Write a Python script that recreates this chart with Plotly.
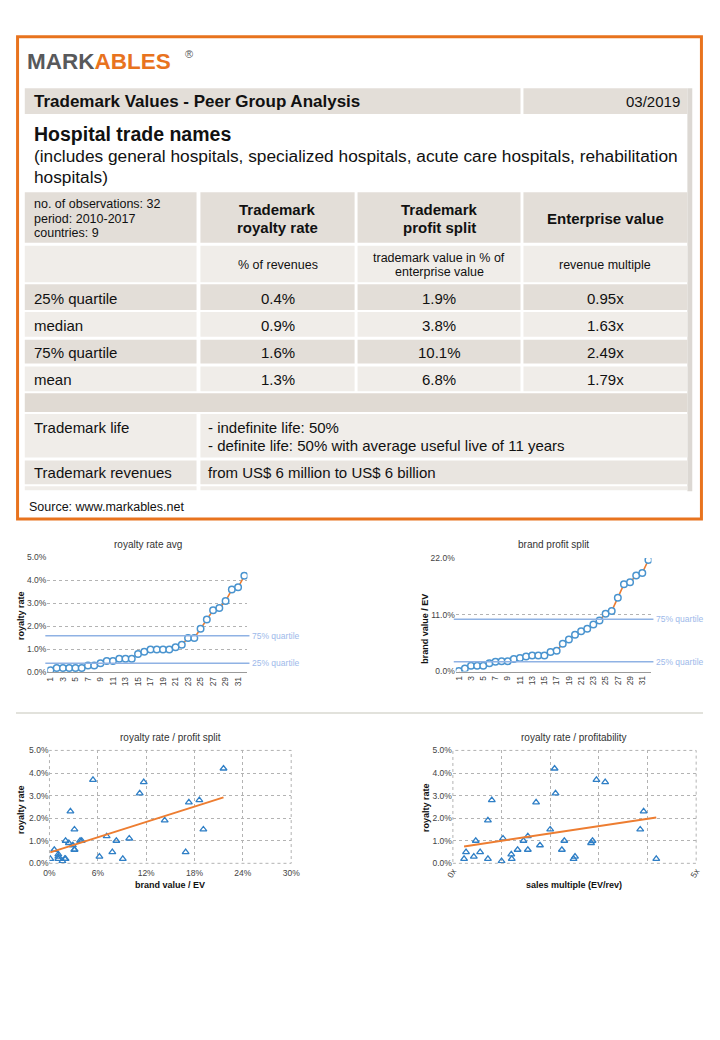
import plotly.graph_objects as go
import numpy as np

# The page keeps the browser's default 8px body margin, so the figure is
# 704x1024 and every target pixel position is shifted by that margin.
PAGE_W, PAGE_H = 720, 1040
OX, OY = 8, 8
W, H = PAGE_W - 2 * OX, PAGE_H - 2 * OY
FONT = "Liberation Sans, Arial, sans-serif"

# ---------------- data ----------------
# chart 3: brand value / EV (%) vs royalty rate (%)
brand_value = [0.1, 0.6, 1.1, 1.1, 1.1, 1.6, 1.9, 2.0, 2.0, 2.4, 2.6, 2.9, 3.1, 3.1, 3.1, 3.8,
               4.0, 5.4, 6.2, 7.1, 7.8, 8.3, 9.1, 9.9, 11.2, 11.7, 14.3, 16.9, 17.3, 18.6, 19.1, 21.6]
royalty_bv = [0.2, 0.6, 0.2, 0.4, 0.3, 0.1, 0.2, 1.0, 0.2, 0.9, 2.3, 0.8, 1.5, 0.6, 0.6, 1.0,
              1.0, 3.7, 0.3, 1.2, 0.5, 1.0, 0.2, 1.1, 3.1, 3.6, 1.9, 0.5, 2.7, 2.8, 1.5, 4.2]
# chart 4: sales multiple (EV/rev) vs royalty rate (%)
ev_multiple = [0.23, 0.27, 0.43, 0.47, 0.56, 0.72, 0.72, 0.80, 1.00, 1.03, 1.20, 1.21, 1.33, 1.45, 1.54, 1.54,
               1.71, 1.79, 2.00, 2.09, 2.11, 2.24, 2.29, 2.48, 2.51, 2.84, 2.87, 2.95, 3.13, 3.85, 3.92, 4.18]
royalty_ev = [0.2, 0.5, 0.3, 1.0, 0.5, 1.9, 0.2, 2.8, 0.1, 1.1, 0.4, 0.2, 0.6, 1.0, 0.6, 1.2,
              2.7, 0.8, 1.5, 4.2, 3.1, 0.6, 1.0, 0.2, 0.3, 0.9, 1.0, 3.7, 3.6, 1.5, 2.3, 0.2]

royalty_quartiles = [0.4, 1.6]
brand_quartiles = [1.9, 10.1]
quartile_labels = ["25% quartile", "75% quartile"]

x_ticks_rank = list(range(1, 33, 2))
royalty_ticks = [0, 1, 2, 3, 4, 5]
royalty_ticktext = ["0.0%", "1.0%", "2.0%", "3.0%", "4.0%", "5.0%"]
brand_ticks = [0, 11, 22]
brand_ticktext = ["0.0%", "11.0%", "22.0%"]
bv_ticks = [0, 6, 12, 18, 24, 30]
bv_ticktext = ["0%", "6%", "12%", "18%", "24%", "30%"]
ev_tickvals = [0, 1, 2, 3, 4, 5]
ev_ticktext = ["0x", "", "", "", "", "5x"]

# table content
stat_rows = ["25% quartile", "median", "75% quartile", "mean"]
royalty_stats = ["0.4%", "0.9%", "1.6%", "1.3%"]
split_stats = ["1.9%", "3.8%", "10.1%", "6.8%"]
ev_stats = ["0.95x", "1.63x", "2.49x", "1.79x"]

# ---------------- helpers ----------------
def px(x):
    return (x - OX) / W

def py(y):
    return 1 - (y - OY) / H

shapes = []
annotations = []

def rect(x0, y0, x1, y1, fill):
    shapes.append(dict(type="rect", xref="paper", yref="paper",
                       x0=px(x0), x1=px(x1), y0=py(y1), y1=py(y0),
                       fillcolor=fill, line=dict(width=0, color=fill), layer="below"))

def hline(x0, x1, y, color, width):
    shapes.append(dict(type="line", xref="paper", yref="paper",
                       x0=px(x0), x1=px(x1), y0=py(y), y1=py(y),
                       line=dict(color=color, width=width)))

def text(x, y, s, size, bold=False, anchor="left", color="#111", angle=0):
    if bold:
        s = "<b>" + s + "</b>"
    annotations.append(dict(x=px(x), y=py(y), xref="paper", yref="paper", text=s,
                            showarrow=False, xanchor=anchor, yanchor="middle",
                            textangle=angle, borderpad=0,
                            font=dict(family=FONT, size=size, color=color)))

# ---------------- table ----------------
DARK = "#e3ded8"
LIGHT = "#f0ede9"
MID = "#e9e5e0"
C = [(17, 193), (197, 355), (358, 525), (528, 696)]

def mid(i):
    return (C[i][0] + C[i][1]) / 2

rect(696, 84, 701, 491, "#dcd8d3")  # right shadow

# row A
rect(17, 84, 525, 110, DARK)
rect(528, 84, 696, 110, DARK)
text(25, 97, "Trademark Values - Peer Group Analysis", 17, bold=True)
text(689, 97, "03/2019", 15, anchor="right")

# title block
text(25, 130, "Hospital trade names", 19.5, bold=True)
text(25, 152, "(includes general hospitals, specialized hospitals, acute care hospitals, rehabilitation", 17.3)
text(25, 174, "hospitals)", 17.3)

# header row
for (a, b) in C:
    rect(a, 189, b, 240, DARK)
text(25, 201, "no. of observations: 32", 12.5)
text(25, 216, "period: 2010-2017", 12.5)
text(25, 230.5, "countries: 9", 12.5)
text(mid(1), 206.5, "Trademark", 15, bold=True, anchor="center")
text(mid(1), 224.5, "royalty rate", 15, bold=True, anchor="center")
text(mid(2), 206.5, "Trademark", 15, bold=True, anchor="center")
text(mid(2), 224.5, "profit split", 15, bold=True, anchor="center")
text(mid(3), 215.5, "Enterprise value", 15, bold=True, anchor="center")

# units row
for (a, b) in C:
    rect(a, 243, b, 280, LIGHT)
text(mid(1), 262, "% of revenues", 12.5, anchor="center")
text(mid(2), 255, "trademark value in % of", 12.5, anchor="center")
text(mid(2), 270, "enterprise value", 12.5, anchor="center")
text(mid(3), 262, "revenue multiple", 12.5, anchor="center")

# stat rows
row_bounds = [(282, 308), (310, 335), (338, 362), (365, 390)]
for i, (t, bt) in enumerate(row_bounds):
    fill = DARK if i % 2 == 0 else LIGHT
    for (a, b) in C:
        rect(a, t, b, bt, fill)
    yc = (t + bt) / 2 + 1
    text(25, yc, stat_rows[i], 15)
    text(mid(1), yc, royalty_stats[i], 15, anchor="center")
    text(mid(2), yc, split_stats[i], 15, anchor="center")
    text(mid(3), yc, ev_stats[i], 15, anchor="center")

# empty row
rect(17, 392, 696, 411, "#e0dad3")
# trademark life
rect(17, 413, 193, 457, LIGHT)
rect(197, 413, 696, 457, LIGHT)
text(25, 427, "Trademark life", 15)
text(204, 427, "- indefinite life: 50%", 15)
text(204, 445, "- definite life: 50% with average useful live of 11 years", 15)
# trademark revenues
rect(17, 460, 193, 484, MID)
rect(197, 460, 696, 484, MID)
text(25, 472, "Trademark revenues", 15)
text(204, 472, "from US$ 6 million to US$ 6 billion", 15)
rect(17, 486, 193, 490, LIGHT)
rect(197, 486, 696, 490, LIGHT)

text(20, 507, "Source: www.markables.net", 12.5)

# logo
annotations.append(dict(x=px(18), y=py(57), xref="paper", yref="paper", showarrow=False,
                        xanchor="left", yanchor="middle", borderpad=0,
                        text="<b><span style='color:#58595b'>MARK</span><span style='color:#e8731e'>ABLES</span></b>",
                        font=dict(family=FONT, size=22.5)))
text(180, 49, "®", 11, color="#58595b")

# orange frame
shapes.append(dict(type="rect", xref="paper", yref="paper",
                   x0=px(9.6), x1=px(710.4), y0=py(519), y1=py(32),
                   line=dict(color="#e8731e", width=3), fillcolor="rgba(0,0,0,0)"))

# separator between chart rows
hline(OX, PAGE_W - OX, 715, "#d9d9d1", 1.5)

# ---------------- charts ----------------
ORANGE = "#ed7d31"
BLUE = "#4a94cf"
QBLUE = "#8fb2e4"
QTEXT = "#9db9ea"
GRID = "#b3b3b3"
TICK = dict(family=FONT, size=8.5, color="#444")

rank = list(range(1, 33))
roy_sorted = sorted(royalty_bv)
bv_sorted = sorted(brand_value)

fig = go.Figure()
for xa, ya, ys in (("x", "y", roy_sorted), ("x2", "y2", bv_sorted)):
    fig.add_trace(go.Scatter(x=rank, y=ys, mode="lines+markers", xaxis=xa, yaxis=ya,
                             line=dict(color=ORANGE, width=1.6),
                             marker=dict(symbol="circle", size=6.5, color="white",
                                         line=dict(color=BLUE, width=1.5))))

def trend(xs, ys):
    k, d = np.polyfit(xs, ys, 1)
    x0, x1 = min(xs), max(xs)
    return [x0, x1], [k * x0 + d, k * x1 + d]

for xa, ya, xs, ys in (("x3", "y3", brand_value, royalty_bv), ("x4", "y4", ev_multiple, royalty_ev)):
    fig.add_trace(go.Scatter(x=xs, y=ys, mode="markers", xaxis=xa, yaxis=ya,
                             marker=dict(symbol="triangle-up-open", size=6, color="#2f7fc6",
                                         line=dict(width=1.3))))
    tx, ty = trend(xs, ys)
    fig.add_trace(go.Scatter(x=tx, y=ty, mode="lines", xaxis=xa, yaxis=ya,
                             line=dict(color=ORANGE, width=2)))

# quartile lines
for ax, qs in (("", royalty_quartiles), ("2", brand_quartiles)):
    for q, lab in zip(qs, quartile_labels):
        shapes.append(dict(type="line", xref="x%s domain" % ax, yref="y%s" % ax,
                           x0=-0.01, x1=1.01, y0=q, y1=q,
                           line=dict(color=QBLUE, width=1.5)))
        annotations.append(dict(x=1.02, y=q, xref="x%s domain" % ax, yref="y%s" % ax,
                                text=lab, showarrow=False, xanchor="left", yanchor="middle",
                                borderpad=0,
                                font=dict(family=FONT, size=8.5, color=QTEXT)))

# dotted frames for scatter charts
for ax in ("3", "4"):
    shapes.append(dict(type="rect", xref="x%s domain" % ax, yref="y%s domain" % ax,
                       x0=0, x1=1, y0=0, y1=1,
                       line=dict(color=GRID, width=1, dash="dot"),
                       fillcolor="rgba(0,0,0,0)"))

# chart titles / axis titles
text(143, 545, "royalty rate avg", 10, anchor="center", color="#333")
text(559, 545, "brand profit split", 10, anchor="center", color="#333")
text(166, 740, "royalty rate / profit split", 10, anchor="center", color="#333")
text(580, 740, "royalty rate / profitability", 10, anchor="center", color="#333")
text(13, 616, "royalty rate", 9, bold=True, anchor="center", angle=-90)
text(427, 630, "brand value / EV", 9, bold=True, anchor="center", angle=-90)
text(13, 812, "royalty rate", 9, bold=True, anchor="center", angle=-90)
text(428, 810, "royalty rate", 9, bold=True, anchor="center", angle=-90)
text(166, 889, "brand value / EV", 9, bold=True, anchor="center")
text(580, 889, "sales multiple (EV/rev)", 9, bold=True, anchor="center")

base_y = dict(showgrid=True, gridcolor=GRID, griddash="dot",
              zeroline=False, showline=False, tickfont=TICK, ticks="", fixedrange=True)
base_x_rank = dict(range=[0.5, 32.5], tickvals=x_ticks_rank, tickangle=-90, showgrid=False,
                   zeroline=False, showline=True, linecolor="#9a9a9a", linewidth=1,
                   tickfont=dict(family=FONT, size=8.5, color="#444"), ticks="", fixedrange=True)
grid_x = dict(showgrid=True, gridcolor=GRID, griddash="dot", zeroline=False, showline=False,
              tickfont=TICK, ticks="", fixedrange=True)

fig.update_layout(
    width=W, height=H, margin=dict(l=0, r=0, t=0, b=0),
    paper_bgcolor="white", plot_bgcolor="white", showlegend=False,
    xaxis=dict(domain=[px(40.1), px(245.2)], anchor="y", **base_x_rank),
    yaxis=dict(domain=[py(674), py(557.7)], anchor="x", range=[0, 5],
               tickvals=royalty_ticks, ticktext=royalty_ticktext, **base_y),
    xaxis2=dict(domain=[px(458.6), px(659.2)], anchor="y2", **base_x_rank),
    yaxis2=dict(domain=[py(673), py(558.3)], anchor="x2", range=[0, 22],
                tickvals=brand_ticks, ticktext=brand_ticktext, **base_y),
    xaxis3=dict(domain=[px(42.3), px(290)], anchor="y3", range=[0, 30],
                tickvals=bv_ticks, ticktext=bv_ticktext, ticklabelstandoff=3, **grid_x),
    yaxis3=dict(domain=[py(866.7), py(752.7)], anchor="x3", range=[0, 5],
                tickvals=royalty_ticks, ticktext=royalty_ticktext, **base_y),
    xaxis4=dict(domain=[px(455.7), px(705)], anchor="y4", range=[0, 5], tickvals=ev_tickvals,
                ticktext=ev_ticktext, tickangle=-60, **grid_x),
    yaxis4=dict(domain=[py(866.7), py(752.7)], anchor="x4", range=[0, 5],
                tickvals=royalty_ticks, ticktext=royalty_ticktext, **base_y),
    shapes=shapes, annotations=annotations,
)

fig.write_html("out.html", config={"displayModeBar": False})
